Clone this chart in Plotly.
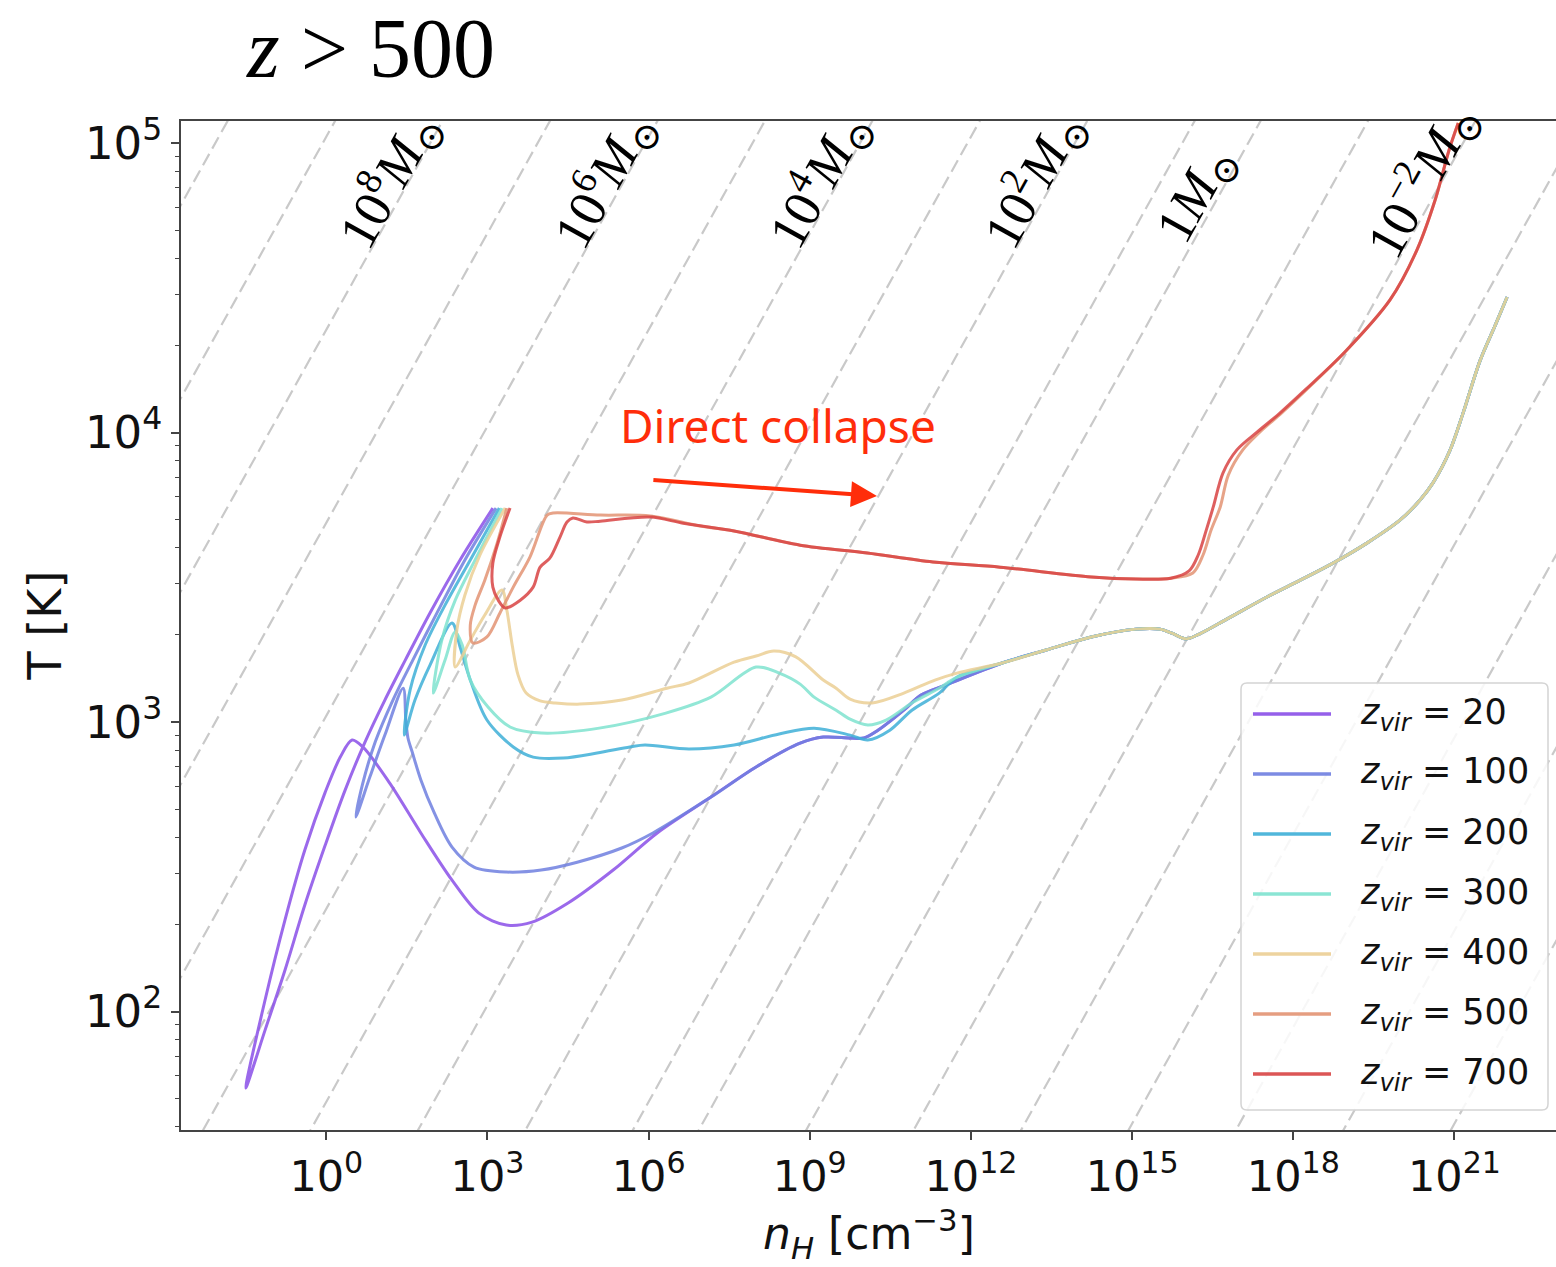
import numpy as np
import plotly.graph_objects as go

# ---------------- data (log10 n_H [cm^-3], log10 T [K]) ----------------
z_values = [20, 100, 200, 300, 400, 500, 700]
colors = ['#8a4fe8', '#6f7fe0', '#3fb0d8', '#7fe3d0', '#eccf95', '#e39474', '#d94444']

common_logn = [12.58, 13.40, 14.24, 15.07, 15.52, 15.74, 16.00, 16.25, 16.73, 17.51, 18.13,
               18.74, 19.37, 19.99, 20.36, 20.60, 20.92, 21.16, 21.48, 21.76, 21.98]
common_logT = [3.204, 3.249, 3.294, 3.321, 3.321, 3.307, 3.287, 3.304, 3.352, 3.432, 3.490,
               3.549, 3.618, 3.698, 3.767, 3.826, 3.940, 4.067, 4.250, 4.371, 4.468]

low_tail_logn = [7.16, 8.00, 8.82, 9.25, 9.75, 10.01, 10.25, 10.75, 11.07, 11.57]
low_tail_logT = [2.741, 2.845, 2.927, 2.948, 2.945, 2.945, 2.969, 3.041, 3.093, 3.131]

z20_logn = [3.10, 2.49, 1.93, 1.47, 1.09, 0.72, 0.35, -0.02, -0.40, -0.77, -1.14, -1.50,
            -1.14, -0.77, -0.40, -0.02, 0.26, 0.48, 0.68, 1.18, 1.76, 2.34, 2.84,
            3.35, 3.83, 4.50, 5.34, 6.16]
z20_logT = [3.739, 3.560, 3.377, 3.214, 3.076, 2.931, 2.765, 2.575, 2.368, 2.143, 1.936, 1.736,
            2.040, 2.316, 2.558, 2.758, 2.879, 2.938, 2.914, 2.789, 2.617, 2.454, 2.340,
            2.299, 2.309, 2.375, 2.489, 2.617]

z100_logn = [3.16, 2.58, 2.06, 1.61, 1.24, 0.91, 0.67, 0.55, 0.81, 1.09, 1.43, 1.48, 1.52,
             1.60, 1.76, 2.01, 2.34, 2.75, 3.35, 4.00, 4.67, 5.50, 6.08]
z100_logT = [3.739, 3.560, 3.377, 3.214, 3.076, 2.931, 2.782, 2.672, 2.810, 2.955, 3.117, 3.007,
             2.945, 2.896, 2.800, 2.686, 2.568, 2.499, 2.482, 2.489, 2.516, 2.565, 2.617]

z200_logn = [3.22, 2.68, 2.21, 1.84, 1.56, 1.45, 1.65, 1.93, 2.34, 2.49, 2.68, 2.99, 3.48,
             3.85, 4.41, 5.04, 5.65, 5.93, 6.75, 7.59, 8.43, 9.08, 9.75, 10.08, 10.49, 10.90,
             11.41, 11.74]
z200_logT = [3.739, 3.560, 3.404, 3.266, 3.111, 2.955, 3.076, 3.197, 3.342, 3.259, 3.145, 3.007,
             2.914, 2.879, 2.876, 2.893, 2.914, 2.921, 2.907, 2.921, 2.959, 2.979, 2.955, 2.938,
             2.972, 3.041, 3.100, 3.155]

z300_logn = [3.27, 2.77, 2.40, 2.15, 1.99, 2.21, 2.40, 2.53, 2.68, 3.01, 3.42, 4.00, 5.08,
             6.32, 7.16, 8.00, 8.43, 8.82, 9.08, 9.49, 9.75, 10.08, 10.42, 10.90, 11.41, 11.74]
z300_logT = [3.739, 3.560, 3.421, 3.283, 3.100, 3.214, 3.311, 3.266, 3.145, 3.052, 2.983, 2.962,
             2.979, 3.031, 3.086, 3.190, 3.169, 3.131, 3.086, 3.041, 3.010, 2.990, 3.007, 3.066,
             3.117, 3.155]

z400_logn = [3.33, 2.86, 2.58, 2.43, 2.40, 2.68, 2.95, 3.27, 3.36, 3.46, 3.57, 3.72, 3.98,
             4.26, 4.72, 5.50, 6.34, 6.75, 7.59, 8.00, 8.33, 8.74, 9.25, 9.49, 9.75, 10.16,
             10.75, 11.33, 11.74]
z400_logT = [3.739, 3.577, 3.439, 3.318, 3.190, 3.283, 3.370, 3.456, 3.387, 3.266, 3.162, 3.100,
             3.073, 3.066, 3.062, 3.076, 3.117, 3.135, 3.207, 3.228, 3.245, 3.225, 3.145, 3.117,
             3.079, 3.066, 3.100, 3.145, 3.169]

flat_logn = [7.59, 8.82, 10.07, 11.29, 12.54, 14.24, 15.07, 15.72]
flat_logT = [3.660, 3.611, 3.584, 3.553, 3.535, 3.501, 3.494, 3.497]

z500_logn = [3.36, 3.18, 2.95, 2.77, 2.68, 2.73, 2.99, 3.23, 3.48, 3.79, 4.11, 4.22, 5.10,
             6.03, 6.96]
z500_logT = [3.739, 3.618, 3.490, 3.404, 3.335, 3.273, 3.294, 3.376, 3.466, 3.570, 3.715, 3.722,
             3.715, 3.712, 3.677]
rise500_logn = [16.13, 16.32, 16.47, 16.64, 16.79, 17.06, 17.38, 17.78, 18.24, 18.96, 19.80,
                20.30, 20.64, 20.90, 21.07]
rise500_logT = [3.515, 3.577, 3.663, 3.743, 3.853, 3.940, 4.002, 4.067, 4.147, 4.278, 4.458,
                4.630, 4.803, 4.976, 5.069]

z700_logn = [3.42, 3.23, 3.10, 3.10, 3.20, 3.33, 3.61, 3.85, 3.98, 4.16, 4.35, 4.48, 4.59,
             4.85, 5.10, 6.03, 6.64]
z700_logT = [3.739, 3.639, 3.549, 3.466, 3.421, 3.394, 3.421, 3.466, 3.535, 3.566, 3.639, 3.691,
             3.705, 3.691, 3.694, 3.708, 3.687]
rise700_logn = [16.06, 16.23, 16.38, 16.51, 16.69, 16.95, 17.33, 17.75, 18.22, 18.96, 19.80,
                20.30, 20.64, 20.90, 21.07]
rise700_logT = [3.522, 3.577, 3.663, 3.743, 3.860, 3.940, 4.002, 4.067, 4.147, 4.278, 4.458,
                4.630, 4.803, 4.976, 5.069]

# Jeans-mass reference lines (M in solar masses)
mass_exponents = list(range(11, -9, -1))
label_exponents = [8, 6, 4, 2, 0, -2]
mu_atomic, mu_molecular = 1.27, 2.3
jeans_const = -1.082

x_tick_exponents = [0, 3, 6, 9, 12, 15, 18, 21]
y_tick_exponents = [2, 3, 4, 5]

# ---------------- assemble curves ----------------
curves_logn = [
    z20_logn + low_tail_logn + common_logn,
    z100_logn + low_tail_logn + common_logn,
    z200_logn + common_logn,
    z300_logn + common_logn,
    z400_logn + common_logn,
    z500_logn + flat_logn + rise500_logn,
    z700_logn + flat_logn + rise700_logn,
]
curves_logT = [
    z20_logT + low_tail_logT + common_logT,
    z100_logT + low_tail_logT + common_logT,
    z200_logT + common_logT,
    z300_logT + common_logT,
    z400_logT + common_logT,
    z500_logT + flat_logT + rise500_logT,
    z700_logT + flat_logT + rise700_logT,
]

fig = go.Figure()

def mu_of(m):
    return mu_atomic if m >= 1 else mu_molecular

ln_span = np.array([-3.5, 24.5])
for m in mass_exponents:
    lt = ln_span / 3.0 + 2.0 * m / 3.0 + np.log10(mu_of(m)) + jeans_const
    fig.add_trace(go.Scatter(x=10 ** ln_span, y=10 ** lt, mode='lines',
                             line=dict(color='#c9c9c9', width=2.2, dash='13px,6px'),
                             hoverinfo='skip', showlegend=False))

for z, c, lnn, ltt in zip(z_values, colors, curves_logn, curves_logT):
    fig.add_trace(go.Scatter(x=10 ** np.array(lnn), y=10 ** np.array(ltt), mode='lines',
                             line=dict(color=c, width=3, shape='spline', smoothing=0.9),
                             opacity=0.85, name=f'z_vir = {z}', showlegend=False))

annotations = []
# mass labels
for m in label_exponents:
    cst = 2.0 * m / 3.0 + np.log10(mu_of(m)) + jeans_const
    tc = 4.82 if m == 0 else 4.875
    lnc = 3.0 * (tc - cst) - 0.40
    if m == 0:
        txt = '1<i>M</i><sub>⊙</sub>'
    else:
        txt = '10<sup>' + (str(m) if m > 0 else '−' + str(-m)) + '</sup><i>M</i><sub>⊙</sub>'
    annotations.append(dict(x=lnc, y=tc, xref='x', yref='y', text=txt, showarrow=False,
                            textangle=-60.9, xanchor='center', yanchor='middle',
                            font=dict(family='Liberation Serif, DejaVu Serif, serif', size=53,
                                      color='black')))

# Direct collapse text + arrow
annotations.append(dict(x=8.40, y=4.026, xref='x', yref='y', text='Direct collapse',
                        showarrow=False, xanchor='center', yanchor='middle',
                        font=dict(family='Noto Sans, Open Sans, sans-serif', size=46,
                                  color='#ff2d0a')))
annotations.append(dict(x=10.25, y=3.781, xref='x', yref='y', ax=6.06, ay=3.836,
                        axref='x', ayref='y', text='', showarrow=True, arrowhead=2,
                        arrowsize=1.3, arrowwidth=4, arrowcolor='#ff2d0a'))

# title
annotations.append(dict(x=0.1375, y=1.072, xref='paper', yref='paper',
                        text='<i>z</i> > 500', showarrow=False, xanchor='center',
                        yanchor='middle',
                        font=dict(family='Liberation Serif, Times New Roman, serif', size=84,
                                  color='black')))

# axis titles
annotations.append(dict(x=0.5, y=-0.1035, xref='paper', yref='paper',
                        text='<i>n</i><sub><i>H</i></sub> [cm<sup>−3</sup>]', showarrow=False,
                        xanchor='center', yanchor='middle',
                        font=dict(family='DejaVu Sans, sans-serif', size=44, color='#111')))
annotations.append(dict(x=-0.099, y=0.5, xref='paper', yref='paper', text='T [K]',
                        showarrow=False, textangle=-90, xanchor='center', yanchor='middle',
                        font=dict(family='DejaVu Sans, sans-serif', size=46, color='#111')))

# manual legend
PW, PH = 1375.0, 1009.0
def px(x):
    return (x - 181.0) / PW
def py(y):
    return (1130.0 - y) / PH

shapes = []
x0, x1, y0, y1, r = px(1241), px(1548), py(1110), py(683), 6
rx, ry = r / PW, r / PH
path = (f'M {x0+rx},{y1} L {x1-rx},{y1} Q {x1},{y1} {x1},{y1-ry} L {x1},{y0+ry} '
        f'Q {x1},{y0} {x1-rx},{y0} L {x0+rx},{y0} Q {x0},{y0} {x0},{y0+ry} '
        f'L {x0},{y1-ry} Q {x0},{y1} {x0+rx},{y1} Z')
shapes.append(dict(type='path', path=path, xref='paper', yref='paper',
                   fillcolor='rgba(255,255,255,0.85)', line=dict(color='#d4d4d4', width=1.5)))
for i, (z, c) in enumerate(zip(z_values, colors)):
    yy = py(714 + 60 * i)
    shapes.append(dict(type='line', xref='paper', yref='paper', x0=px(1253), x1=px(1331),
                       y0=yy, y1=yy, line=dict(color=c, width=3.5), opacity=0.9))
    annotations.append(dict(x=px(1358), y=yy, xref='paper', yref='paper',
                            text=f'<i>z</i><sub><i>vir</i></sub> = {z}', showarrow=False,
                            xanchor='left', yanchor='middle',
                            font=dict(family='DejaVu Sans, sans-serif', size=35,
                                      color='#111')))

xaxis_font = dict(family='DejaVu Sans, sans-serif', size=43, color='#111')
yaxis_font = dict(family='DejaVu Sans, sans-serif', size=45, color='#111')
fig.update_layout(
    width=1556, height=1267,
    margin=dict(l=181, r=0, t=121, b=137),
    paper_bgcolor='white', plot_bgcolor='white',
    showlegend=False,
    annotations=annotations,
    shapes=shapes,
    xaxis=dict(type='log', range=[-2.705, 22.89],
               tickmode='array', tickvals=[10.0 ** k for k in x_tick_exponents],
               ticktext=[f'10<sup>{k}</sup>' for k in x_tick_exponents],
               ticks='outside', ticklen=8, tickwidth=1.5, tickcolor='#444',
               showline=True, linecolor='#444', linewidth=1.5, mirror=True,
               showgrid=False, zeroline=False, tickfont=xaxis_font),
    yaxis=dict(type='log', range=[1.591, 5.076],
               tickmode='array', tickvals=[10.0 ** k for k in y_tick_exponents],
               ticktext=[f'10<sup>{k}</sup>' for k in y_tick_exponents],
               ticks='outside', ticklen=8, tickwidth=1.5, tickcolor='#444',
               minor=dict(tickmode='array',
                          tickvals=[d * 10.0 ** k for k in range(1, 6) for d in range(2, 10)],
                          ticks='outside', ticklen=4, tickwidth=1, tickcolor='#444'),
               showline=True, linecolor='#444', linewidth=1.5, mirror=False,
               showgrid=False, zeroline=False, tickfont=yaxis_font),
)

fig.write_html('out.html')
